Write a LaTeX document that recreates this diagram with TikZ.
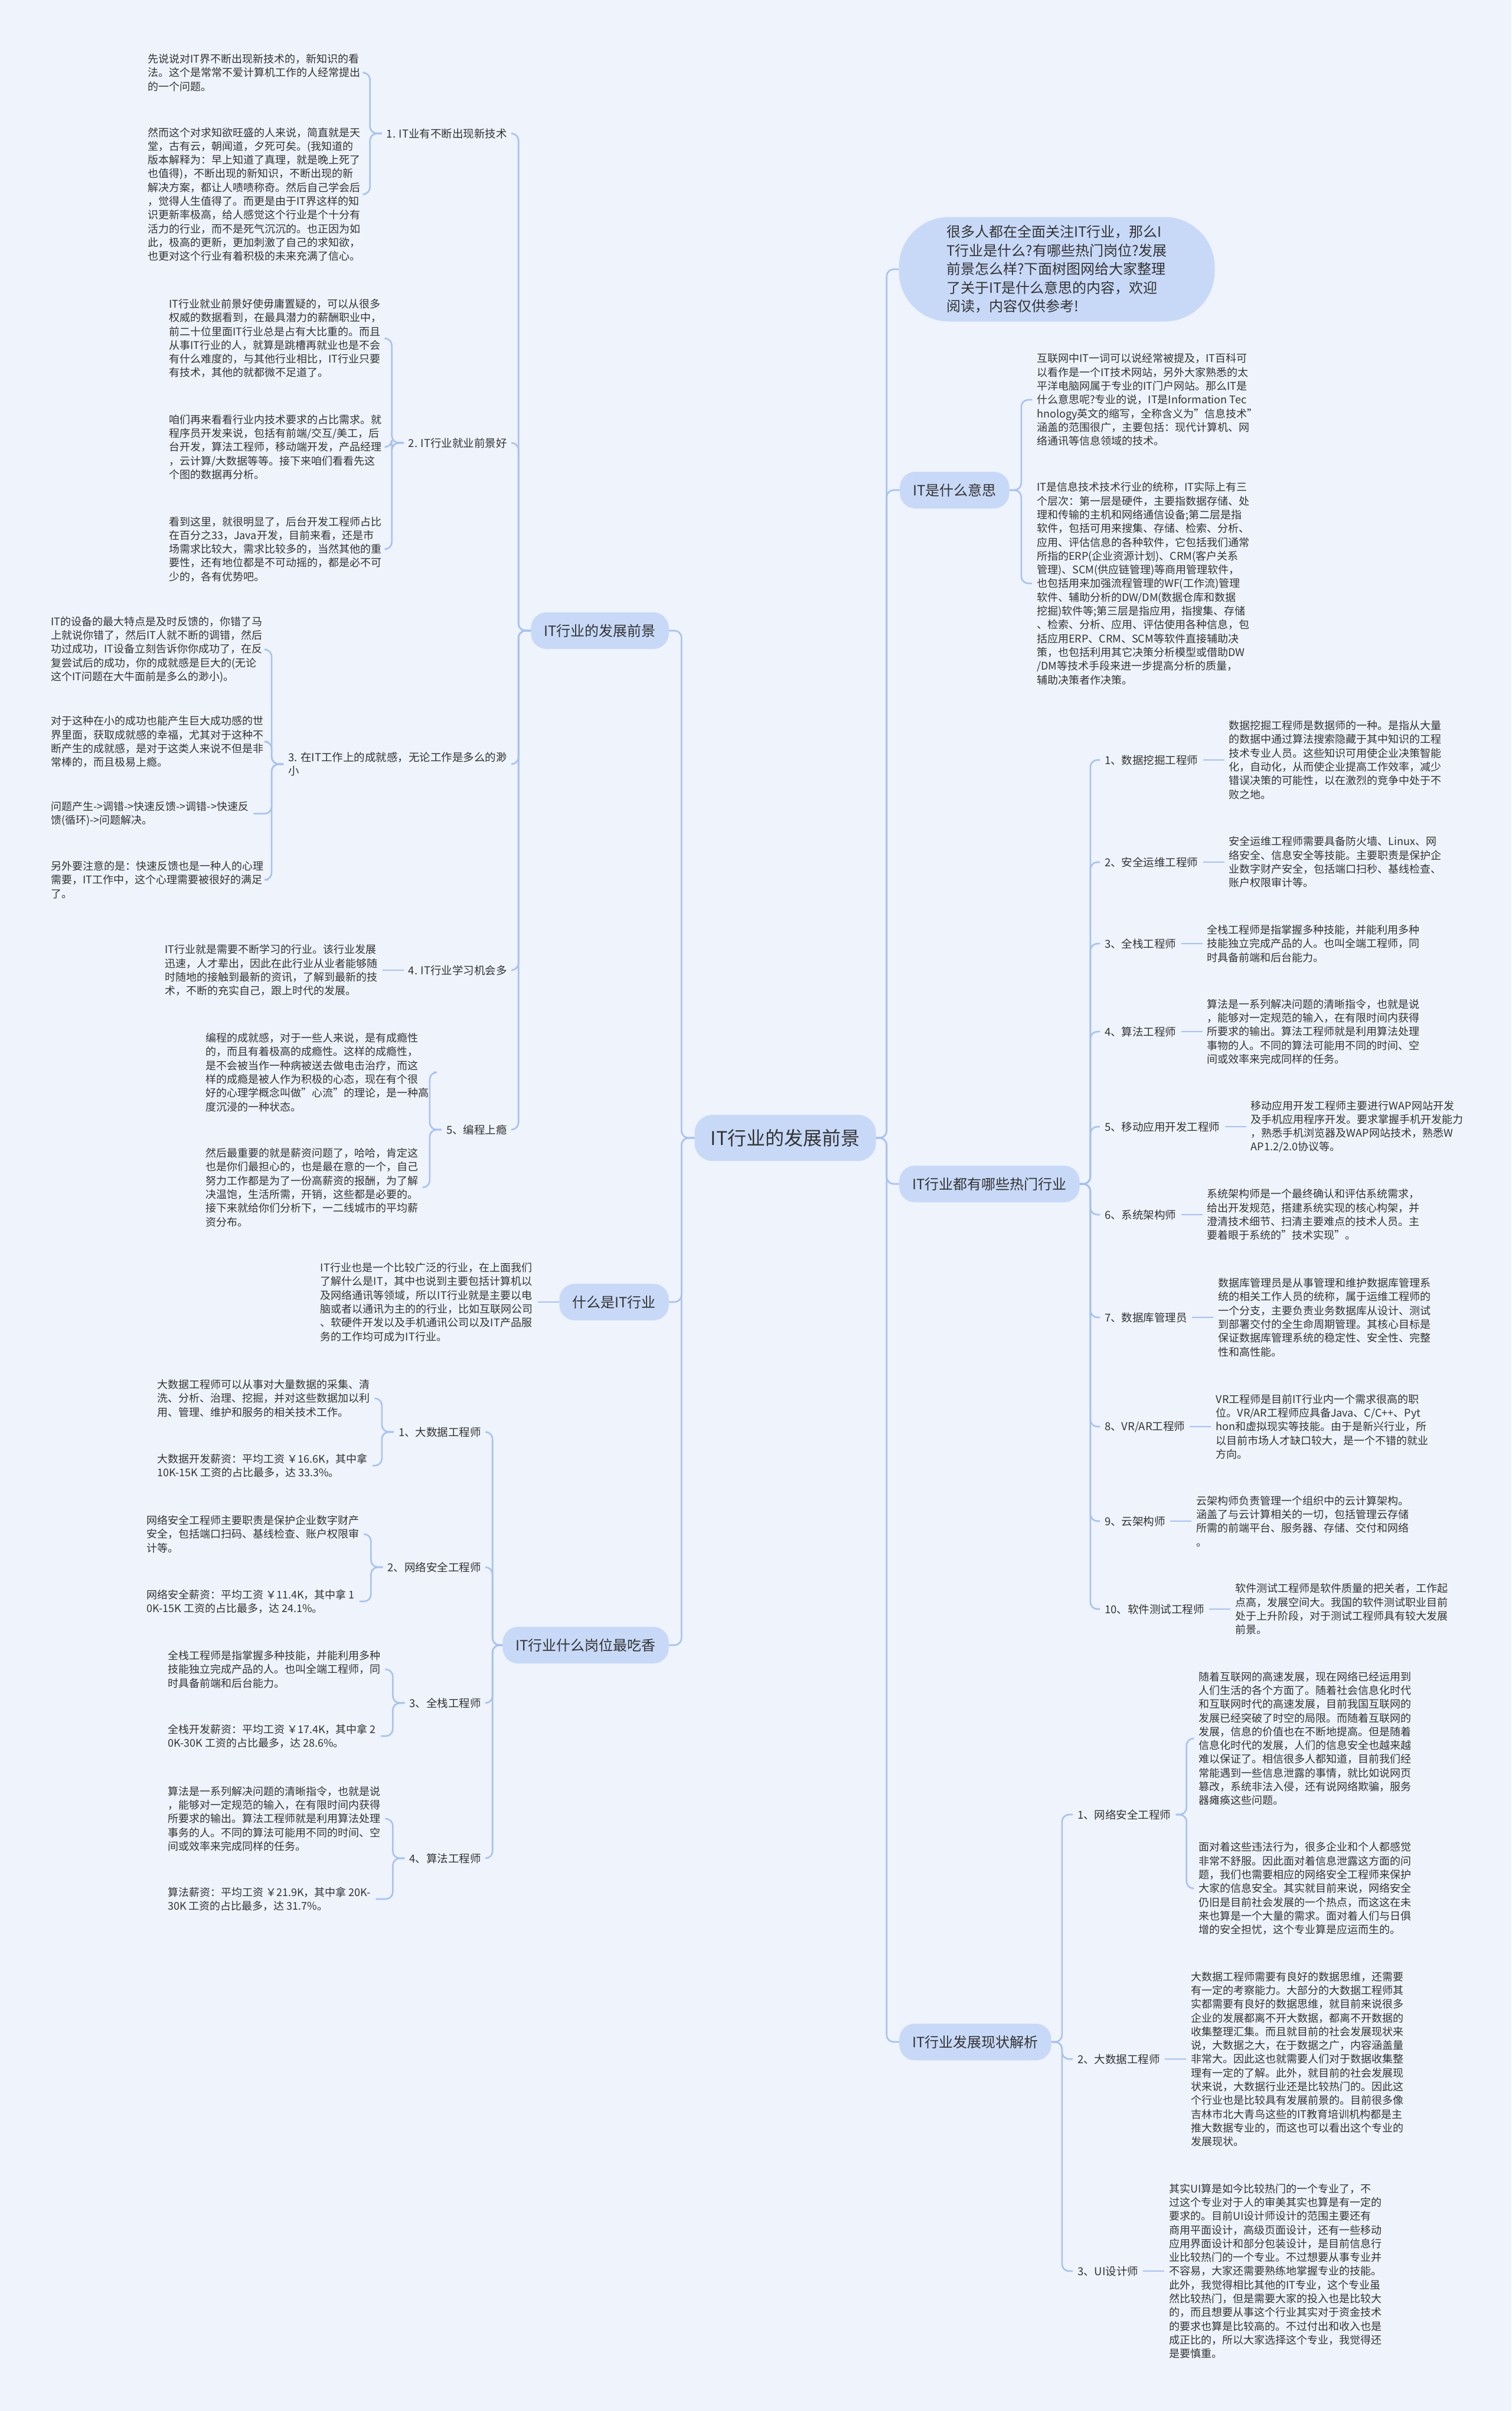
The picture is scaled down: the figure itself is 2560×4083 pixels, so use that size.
\documentclass[tikz,border=0pt]{standalone}
\usepackage{fontspec}
\setmainfont{Noto Sans CJK SC}
\usepackage{xcolor}
\usepackage{tikz}
\usetikzlibrary{positioning}

\definecolor{bgc}{HTML}{EEF3FC}
\definecolor{nodec}{HTML}{C8D9F8}
\definecolor{linkc}{HTML}{A8C2EE}
\definecolor{textc}{HTML}{333333}

\begin{document}
\begin{tikzpicture}[x=1pt, y=-1pt,
	every node/.style={text=textc},
	root/.style={fill=nodec, rounded corners=30pt, minimum width=307pt, minimum height=78pt, font=\fontsize{32}{38}\selectfont},
	topic/.style={fill=nodec, rounded corners=26pt, inner xsep=22pt, minimum height=62pt, font=\fontsize{24}{31}\selectfont},
	sub/.style={inner xsep=8pt, inner ysep=2pt, align=left, font=\fontsize{18.5}{23}\selectfont},
	leaf/.style={inner xsep=8pt, inner ysep=2pt, align=left, font=\fontsize{18}{23.3}\selectfont},
	link/.style={draw=linkc, line width=2.6pt, rounded corners=12pt}]

	\fill[bgc] (0,0) rectangle (2560,4083);
	\useasboundingbox (0,0) rectangle (2560,4083);

	\node[root] (root) at (1330,1927) {IT行业的发展前景};

	% left: IT行业的发展前景
	\node[topic, anchor=east] (devl) at (1133,1068) {IT行业的发展前景};
	\node[sub, anchor=east] (tech) at (867,226) {1. IT业有不断出现新技术};
	\node[sub, anchor=east] (jobs) at (867,750) {2. IT行业就业前景好};
	\node[sub, anchor=east] (proud) at (867,1294) {3. 在IT工作上的成就感，无论工作是多么的渺\\小};
	\node[sub, anchor=east] (learn) at (867,1643) {4. IT行业学习机会多};
	\node[sub, anchor=east] (hook) at (867,1913) {5、编程上瘾};

	\node[leaf, anchor=west] (tech1) at (242,123) {先说说对IT界不断出现新技术的，新知识的看\\法。这个是常常不爱计算机工作的人经常提出\\的一个问题。};
	\node[leaf, anchor=west] (tech2) at (242,329) {然而这个对求知欲旺盛的人来说，简直就是天\\堂，古有云，朝闻道，夕死可矣。(我知道的\\版本解释为：早上知道了真理，就是晚上死了\\也值得)，不断出现的新知识，不断出现的新\\解决方案，都让人啧啧称奇。然后自己学会后\\，觉得人生值得了。而更是由于IT界这样的知\\识更新率极高，给人感觉这个行业是个十分有\\活力的行业，而不是死气沉沉的。也正因为如\\此，极高的更新，更加刺激了自己的求知欲，\\也更对这个行业有着积极的未来充满了信心。};
	\node[leaf, anchor=west] (jobs1) at (278,573) {IT行业就业前景好使毋庸置疑的，可以从很多\\权威的数据看到，在最具潜力的薪酬职业中，\\前二十位里面IT行业总是占有大比重的。而且\\从事IT行业的人，就算是跳槽再就业也是不会\\有什么难度的，与其他行业相比，IT行业只要\\有技术，其他的就都微不足道了。};
	\node[leaf, anchor=west] (jobs2) at (278,757) {咱们再来看看行业内技术要求的占比需求。就\\程序员开发来说，包括有前端/交互/美工，后\\台开发，算法工程师，移动端开发，产品经理\\，云计算/大数据等等。接下来咱们看看先这\\个图的数据再分析。};
	\node[leaf, anchor=west] (jobs3) at (278,930) {看到这里，就很明显了，后台开发工程师占比\\在百分之33，Java开发，目前来看，还是市\\场需求比较大，需求比较多的，当然其他的重\\要性，还有地位都是不可动摇的，都是必不可\\少的，各有优势吧。};
	\node[leaf, anchor=west] (proud1) at (78,1100) {IT的设备的最大特点是及时反馈的，你错了马\\上就说你错了，然后IT人就不断的调错，然后\\功过成功，IT设备立刻告诉你你成功了，在反\\复尝试后的成功，你的成就感是巨大的(无论\\这个IT问题在大牛面前是多么的渺小)。};
	\node[leaf, anchor=west] (proud2) at (78,1256) {对于这种在小的成功也能产生巨大成功感的世\\界里面，获取成就感的幸福，尤其对于这种不\\断产生的成就感，是对于这类人来说不但是非\\常棒的，而且极易上瘾。};
	\node[leaf, anchor=west] (proud3) at (78,1378) {问题产生->调错->快速反馈->调错->快速反\\馈(循环)->问题解决。};
	\node[leaf, anchor=west] (proud4) at (78,1490) {另外要注意的是：快速反馈也是一种人的心理\\需要，IT工作中，这个心理需要被很好的满足\\了。};
	\node[leaf, left=36pt of learn] (learn1) {IT行业就是需要不断学习的行业。该行业发展\\迅速，人才辈出，因此在此行业从业者能够随\\时随地的接触到最新的资讯，了解到最新的技\\术，不断的充实自己，跟上时代的发展。};
	\node[leaf, anchor=west] (hook1) at (340,1816) {编程的成就感，对于一些人来说，是有成瘾性\\的，而且有着极高的成瘾性。这样的成瘾性，\\是不会被当作一种病被送去做电击治疗，而这\\样的成瘾是被人作为积极的心态，现在有个很\\好的心理学概念叫做"心流"的理论，是一种高\\度沉浸的一种状态。};
	\node[leaf, anchor=west] (hook2) at (340,2011) {然后最重要的就是薪资问题了，哈哈，肯定这\\也是你们最担心的，也是最在意的一个，自己\\努力工作都是为了一份高薪资的报酬，为了解\\决温饱，生活所需，开销，这些都是必要的。\\接下来就给你们分析下，一二线城市的平均薪\\资分布。};

	% left: 什么是IT行业
	\node[topic, anchor=east] (what) at (1133,2205) {什么是IT行业};
	\node[leaf, left=36pt of what] (what1) {IT行业也是一个比较广泛的行业，在上面我们\\了解什么是IT，其中也说到主要包括计算机以\\及网络通讯等领域，所以IT行业就是主要以电\\脑或者以通讯为主的的行业，比如互联网公司\\、软硬件开发以及手机通讯公司以及IT产品服\\务的工作均可成为IT行业。};

	% left: IT行业什么岗位最吃香
	\node[topic, anchor=east] (best) at (1133,2786) {IT行业什么岗位最吃香};
	\node[sub, anchor=east] (bigdata) at (823,2425) {1、大数据工程师};
	\node[sub, anchor=east] (netsec) at (823,2654) {2、网络安全工程师};
	\node[sub, anchor=east] (stack) at (823,2884) {3、全栈工程师};
	\node[sub, anchor=east] (algo) at (823,3147) {4、算法工程师};
	\node[leaf, anchor=west] (bigdata1) at (258,2368) {大数据工程师可以从事对大量数据的采集、清\\洗、分析、治理、挖掘，并对这些数据加以利\\用、管理、维护和服务的相关技术工作。};
	\node[leaf, anchor=west] (bigdata2) at (258,2482) {大数据开发薪资：平均工资 ￥16.6K，其中拿\\ 10K-15K 工资的占比最多，达 33.3\%。};
	\node[leaf, anchor=west] (netsec1) at (240,2598) {网络安全工程师主要职责是保护企业数字财产\\安全，包括端口扫码、基线检查、账户权限审\\计等。};
	\node[leaf, anchor=west] (netsec2) at (240,2712) {网络安全薪资：平均工资 ￥11.4K，其中拿 1\\0K-15K 工资的占比最多，达 24.1\%。};
	\node[leaf, anchor=west] (stack1) at (276,2827) {全栈工程师是指掌握多种技能，并能利用多种\\技能独立完成产品的人。也叫全端工程师，同\\时具备前端和后台能力。};
	\node[leaf, anchor=west] (stack2) at (276,2940) {全栈开发薪资：平均工资 ￥17.4K，其中拿 2\\0K-30K 工资的占比最多，达 28.6\%。};
	\node[leaf, anchor=west] (algo1) at (276,3080) {算法是一系列解决问题的清晰指令，也就是说\\，能够对一定规范的输入，在有限时间内获得\\所要求的输出。算法工程师就是利用算法处理\\事务的人。不同的算法可能用不同的时间、空\\间或效率来完成同样的任务。};
	\node[leaf, anchor=west] (algo2) at (276,3216) {算法薪资：平均工资 ￥21.9K，其中拿 20K-\\30K 工资的占比最多，达 31.7\%。};

	% right: intro bubble
	\node[fill=nodec, rounded corners=85pt, minimum width=535pt, minimum height=177pt, align=left, font=\fontsize{24}{31.5}\selectfont] (intro) at (1790,456) {很多人都在全面关注IT行业，那么I\\T行业是什么?有哪些热门岗位?发展\\前景怎么样?下面树图网给大家整理\\了关于IT是什么意思的内容，欢迎\\阅读，内容仅供参考!};

	% right: IT是什么意思
	\node[topic, anchor=west] (mean) at (1524,830) {IT是什么意思};
	\node[leaf, anchor=west] (mean1) at (1748,677) {互联网中IT一词可以说经常被提及，IT百科可\\以看作是一个IT技术网站，另外大家熟悉的太\\平洋电脑网属于专业的IT门户网站。那么IT是\\什么意思呢?专业的说，IT是Information Tec\\hnology英文的缩写，全称含义为"信息技术"\\涵盖的范围很广，主要包括：现代计算机、网\\络通讯等信息领域的技术。};
	\node[leaf, anchor=west] (mean2) at (1748,988) {IT是信息技术技术行业的统称，IT实际上有三\\个层次：第一层是硬件，主要指数据存储、处\\理和传输的主机和网络通信设备;第二层是指\\软件，包括可用来搜集、存储、检索、分析、\\应用、评估信息的各种软件，它包括我们通常\\所指的ERP(企业资源计划)、CRM(客户关系\\管理)、SCM(供应链管理)等商用管理软件，\\也包括用来加强流程管理的WF(工作流)管理\\软件、辅助分析的DW/DM(数据仓库和数据\\挖掘)软件等;第三层是指应用，指搜集、存储\\、检索、分析、应用、评估使用各种信息，包\\括应用ERP、CRM、SCM等软件直接辅助决\\策，也包括利用其它决策分析模型或借助DW\\/DM等技术手段来进一步提高分析的质量，\\辅助决策者作决策。};

	% right: IT行业都有哪些热门行业
	\node[topic, anchor=west] (hotjobs) at (1523,2005) {IT行业都有哪些热门行业};
	\node[sub, anchor=west] (mining) at (1863,1287) {1、数据挖掘工程师};
	\node[sub, anchor=west] (ops) at (1863,1460) {2、安全运维工程师};
	\node[sub, anchor=west] (full) at (1863,1598) {3、全栈工程师};
	\node[sub, anchor=west] (algor) at (1863,1747) {4、算法工程师};
	\node[sub, anchor=west] (mobile) at (1863,1908) {5、移动应用开发工程师};
	\node[sub, anchor=west] (arch) at (1863,2057) {6、系统架构师};
	\node[sub, anchor=west] (dba) at (1863,2231) {7、数据库管理员};
	\node[sub, anchor=west] (vr) at (1863,2416) {8、VR/AR工程师};
	\node[sub, anchor=west] (cloud) at (1863,2576) {9、云架构师};
	\node[sub, anchor=west] (test) at (1863,2725) {10、软件测试工程师};
	\node[leaf, right=36pt of mining] (mining1) {数据挖掘工程师是数据师的一种。是指从大量\\的数据中通过算法搜索隐藏于其中知识的工程\\技术专业人员。这些知识可用使企业决策智能\\化，自动化，从而使企业提高工作效率，减少\\错误决策的可能性，以在激烈的竞争中处于不\\败之地。};
	\node[leaf, right=36pt of ops] (ops1) {安全运维工程师需要具备防火墙、Linux、网\\络安全、信息安全等技能。主要职责是保护企\\业数字财产安全，包括端口扫秒、基线检查、\\账户权限审计等。};
	\node[leaf, right=36pt of full] (full1) {全栈工程师是指掌握多种技能，并能利用多种\\技能独立完成产品的人。也叫全端工程师，同\\时具备前端和后台能力。};
	\node[leaf, right=36pt of algor] (algor1) {算法是一系列解决问题的清晰指令，也就是说\\，能够对一定规范的输入，在有限时间内获得\\所要求的输出。算法工程师就是利用算法处理\\事物的人。不同的算法可能用不同的时间、空\\间或效率来完成同样的任务。};
	\node[leaf, right=36pt of mobile] (mobile1) {移动应用开发工程师主要进行WAP网站开发\\及手机应用程序开发。要求掌握手机开发能力\\，熟悉手机浏览器及WAP网站技术，熟悉W\\AP1.2/2.0协议等。};
	\node[leaf, right=36pt of arch] (arch1) {系统架构师是一个最终确认和评估系统需求，\\给出开发规范，搭建系统实现的核心构架，并\\澄清技术细节、扫清主要难点的技术人员。主\\要着眼于系统的"技术实现"。};
	\node[leaf, right=36pt of dba] (dba1) {数据库管理员是从事管理和维护数据库管理系\\统的相关工作人员的统称，属于运维工程师的\\一个分支，主要负责业务数据库从设计、测试\\到部署交付的全生命周期管理。其核心目标是\\保证数据库管理系统的稳定性、安全性、完整\\性和高性能。};
	\node[leaf, right=36pt of vr] (vr1) {VR工程师是目前IT行业内一个需求很高的职\\位。VR/AR工程师应具备Java、C/C++、Pyt\\hon和虚拟现实等技能。由于是新兴行业，所\\以目前市场人才缺口较大，是一个不错的就业\\方向。};
	\node[leaf, right=36pt of cloud] (cloud1) {云架构师负责管理一个组织中的云计算架构。\\涵盖了与云计算相关的一切，包括管理云存储\\所需的前端平台、服务器、存储、交付和网络\\。};
	\node[leaf, right=36pt of test] (test1) {软件测试工程师是软件质量的把关者，工作起\\点高，发展空间大。我国的软件测试职业目前\\处于上升阶段，对于测试工程师具有较大发展\\前景。};

	% right: IT行业发展现状解析
	\node[topic, anchor=west] (now) at (1523,3458) {IT行业发展现状解析};
	\node[sub, anchor=west] (secnow) at (1817,3073) {1、网络安全工程师};
	\node[sub, anchor=west] (bignow) at (1817,3487) {2、大数据工程师};
	\node[sub, anchor=west] (uinow) at (1817,3846) {3、UI设计师};
	\node[leaf, anchor=west] (secnow1) at (2022,2944) {随着互联网的高速发展，现在网络已经运用到\\人们生活的各个方面了。随着社会信息化时代\\和互联网时代的高速发展，目前我国互联网的\\发展已经突破了时空的局限。而随着互联网的\\发展，信息的价值也在不断地提高。但是随着\\信息化时代的发展，人们的信息安全也越来越\\难以保证了。相信很多人都知道，目前我们经\\常能遇到一些信息泄露的事情，就比如说网页\\篡改，系统非法入侵，还有说网络欺骗，服务\\器瘫痪这些问题。};
	\node[leaf, anchor=west] (secnow2) at (2022,3198) {面对着这些违法行为，很多企业和个人都感觉\\非常不舒服。因此面对着信息泄露这方面的问\\题，我们也需要相应的网络安全工程师来保护\\大家的信息安全。其实就目前来说，网络安全\\仍旧是目前社会发展的一个热点，而这这在未\\来也算是一个大量的需求。面对着人们与日俱\\增的安全担忧，这个专业算是应运而生的。};
	\node[leaf, right=36pt of bignow] (bignow1) {大数据工程师需要有良好的数据思维，还需要\\有一定的考察能力。大部分的大数据工程师其\\实都需要有良好的数据思维，就目前来说很多\\企业的发展都离不开大数据，都离不开数据的\\收集整理汇集。而且就目前的社会发展现状来\\说，大数据之大，在于数据之广，内容涵盖量\\非常大。因此这也就需要人们对于数据收集整\\理有一定的了解。此外，就目前的社会发展现\\状来说，大数据行业还是比较热门的。因此这\\个行业也是比较具有发展前景的。目前很多像\\吉林市北大青鸟这些的IT教育培训机构都是主\\推大数据专业的，而这也可以看出这个专业的\\发展现状。};
	\node[leaf, right=36pt of uinow] (uinow1) {其实UI算是如今比较热门的一个专业了，不\\过这个专业对于人的审美其实也算是有一定的\\要求的。目前UI设计师设计的范围主要还有\\商用平面设计，高级页面设计，还有一些移动\\应用界面设计和部分包装设计，是目前信息行\\业比较热门的一个专业。不过想要从事专业并\\不容易，大家还需要熟练地掌握专业的技能。\\此外，我觉得相比其他的IT专业，这个专业虽\\然比较热门，但是需要大家的投入也是比较大\\的，而且想要从事这个行业其实对于资金技术\\的要求也算是比较高的。不过付出和收入也是\\成正比的，所以大家选择这个专业，我觉得还\\是要慎重。};

	% links from the root
	\draw[link] (root.west) -- ++(-22,0) |- (devl.east);
	\draw[link] (root.west) -- ++(-22,0) |- (what.east);
	\draw[link] (root.west) -- ++(-22,0) |- (best.east);
	\draw[link] (root.east) -- ++(18,0) |- (intro.west);
	\draw[link] (root.east) -- ++(18,0) |- (mean.west);
	\draw[link] (root.east) -- ++(18,0) |- (hotjobs.west);
	\draw[link] (root.east) -- ++(18,0) |- (now.west);

	% left links
	\draw[link] (devl.west) -- ++(-21,0) |- (tech.east);
	\draw[link] (devl.west) -- ++(-21,0) |- (jobs.east);
	\draw[link] (devl.west) -- ++(-21,0) |- (proud.east);
	\draw[link] (devl.west) -- ++(-21,0) |- (learn.east);
	\draw[link] (devl.west) -- ++(-21,0) |- (hook.east);
	\draw[link] (tech.west) -- ++(-20,0) |- (tech1.east);
	\draw[link] (tech.west) -- ++(-20,0) |- (tech2.east);
	\draw[link] (jobs.west) -- ++(-20,0) |- (jobs1.east);
	\draw[link] (jobs.west) -- ++(-20,0) |- (jobs2.east);
	\draw[link] (jobs.west) -- ++(-20,0) |- (jobs3.east);
	\draw[link] (proud.west) -- ++(-20,0) |- (proud1.east);
	\draw[link] (proud.west) -- ++(-20,0) |- (proud2.east);
	\draw[link] (proud.west) -- ++(-20,0) |- (proud3.east);
	\draw[link] (proud.west) -- ++(-20,0) |- (proud4.east);
	\draw[link] (learn.west) -- (learn1.east);
	\draw[link] (hook.west) -- ++(-20,0) |- (hook1.east);
	\draw[link] (hook.west) -- ++(-20,0) |- (hook2.east);
	\draw[link] (what.west) -- (what1.east);
	\draw[link] (best.west) -- ++(-17,0) |- (bigdata.east);
	\draw[link] (best.west) -- ++(-17,0) |- (netsec.east);
	\draw[link] (best.west) -- ++(-17,0) |- (stack.east);
	\draw[link] (best.west) -- ++(-17,0) |- (algo.east);
	\draw[link] (bigdata.west) -- ++(-20,0) |- (bigdata1.east);
	\draw[link] (bigdata.west) -- ++(-20,0) |- (bigdata2.east);
	\draw[link] (netsec.west) -- ++(-20,0) |- (netsec1.east);
	\draw[link] (netsec.west) -- ++(-20,0) |- (netsec2.east);
	\draw[link] (stack.west) -- ++(-20,0) |- (stack1.east);
	\draw[link] (stack.west) -- ++(-20,0) |- (stack2.east);
	\draw[link] (algo.west) -- ++(-20,0) |- (algo1.east);
	\draw[link] (algo.west) -- ++(-20,0) |- (algo2.east);

	% right links
	\draw[link] (mean.east) -- ++(20,0) |- (mean1.west);
	\draw[link] (mean.east) -- ++(20,0) |- (mean2.west);
	\draw[link] (hotjobs.east) -- ++(18,0) |- (mining.west);
	\draw[link] (hotjobs.east) -- ++(18,0) |- (ops.west);
	\draw[link] (hotjobs.east) -- ++(18,0) |- (full.west);
	\draw[link] (hotjobs.east) -- ++(18,0) |- (algor.west);
	\draw[link] (hotjobs.east) -- ++(18,0) |- (mobile.west);
	\draw[link] (hotjobs.east) -- ++(18,0) |- (arch.west);
	\draw[link] (hotjobs.east) -- ++(18,0) |- (dba.west);
	\draw[link] (hotjobs.east) -- ++(18,0) |- (vr.west);
	\draw[link] (hotjobs.east) -- ++(18,0) |- (cloud.west);
	\draw[link] (hotjobs.east) -- ++(18,0) |- (test.west);
	\draw[link] (mining.east) -- (mining1.west);
	\draw[link] (ops.east) -- (ops1.west);
	\draw[link] (full.east) -- (full1.west);
	\draw[link] (algor.east) -- (algor1.west);
	\draw[link] (mobile.east) -- (mobile1.west);
	\draw[link] (arch.east) -- (arch1.west);
	\draw[link] (dba.east) -- (dba1.west);
	\draw[link] (vr.east) -- (vr1.west);
	\draw[link] (cloud.east) -- (cloud1.west);
	\draw[link] (test.east) -- (test1.west);
	\draw[link] (now.east) -- ++(18,0) |- (secnow.west);
	\draw[link] (now.east) -- ++(18,0) |- (bignow.west);
	\draw[link] (now.east) -- ++(18,0) |- (uinow.west);
	\draw[link] (secnow.east) -- ++(18,0) |- (secnow1.west);
	\draw[link] (secnow.east) -- ++(18,0) |- (secnow2.west);
	\draw[link] (bignow.east) -- (bignow1.west);
	\draw[link] (uinow.east) -- (uinow1.west);
\end{tikzpicture}
\end{document}
